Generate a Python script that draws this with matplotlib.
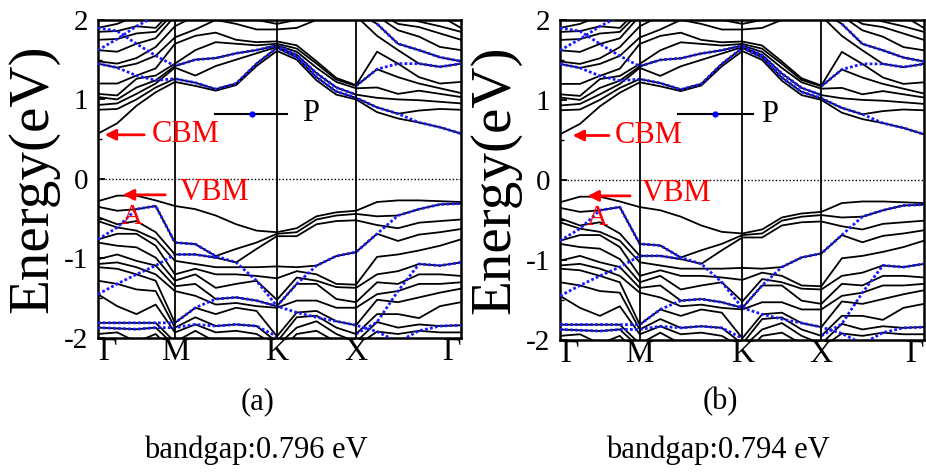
import numpy as np
import matplotlib
matplotlib.use('Agg')
import matplotlib.pyplot as plt
from matplotlib.ticker import MultipleLocator

plt.rcParams['font.family'] = ['Liberation Serif', 'DejaVu Serif']

# --------------------- 高对称点 ---------------------
k_labels = ['Γ', 'M', 'K', 'X', 'Γ']
k_nodes_a = [0.0, 0.212, 0.493, 0.711, 1.0]
k_nodes_b = [0.0, 0.219, 0.501, 0.718, 1.0]
seg_steps = [4, 5, 4, 5]  # 每段取点数

# --------------------- 导带 (eV) ---------------------
cb01 = [0.57, 0.70, 0.92, 1.09, 1.22, 1.17, 1.11, 1.18, 1.42, 1.61, 1.50, 1.24, 1.06, 1.00, 0.84, 0.76, 0.71, 0.65, 0.57]
cb02 = [0.87, 0.88, 1.00, 1.15, 1.26, 1.21, 1.13, 1.20, 1.45, 1.65, 1.53, 1.28, 1.10, 1.02, 0.90, 0.82, 0.86, 0.88, 0.87]
cb03 = [0.93, 0.95, 1.07, 1.20, 1.40, 1.30, 1.42, 1.50, 1.58, 1.66, 1.56, 1.33, 1.15, 1.06, 1.02, 1.00, 0.99, 0.97, 0.95]
cb04 = [1.03, 1.00, 1.15, 1.24, 1.42, 1.50, 1.52, 1.58, 1.62, 1.68, 1.60, 1.40, 1.22, 1.14, 1.15, 1.07, 1.11, 1.07, 1.03]
cb05 = [1.07, 1.05, 1.26, 1.30, 1.45, 1.62, 1.72, 1.70, 1.68, 1.70, 1.64, 1.45, 1.25, 1.17, 1.38, 1.28, 1.20, 1.14, 1.08]
cb06 = [1.20, 1.20, 1.30, 1.39, 1.70, 1.80, 1.84, 1.75, 1.72, 1.73, 1.68, 1.48, 1.27, 1.18, 1.60, 1.45, 1.28, 1.20, 1.22]
cb07 = [1.45, 1.40, 1.45, 1.55, 1.78, 1.88, 2.00, 1.95, 1.88, 1.88, 1.90, 2.00, 2.05, 2.05, 1.80, 1.62, 1.45, 1.41, 1.45]
cb08 = [1.48, 1.45, 1.52, 1.66, 1.92, 2.05, 2.05, 2.05, 2.00, 1.95, 2.00, 2.05, 2.10, 2.10, 1.95, 1.70, 1.62, 1.53, 1.48]
cb09 = [1.62, 1.60, 1.70, 1.77, 2.05, 2.10, 2.10, 2.10, 2.10, 2.10, 2.10, 2.10, 2.15, 2.15, 2.05, 1.87, 1.79, 1.66, 1.62]
cb10 = [1.75, 1.76, 1.83, 1.85, 2.10, 2.15, 2.15, 2.15, 2.15, 2.15, 2.15, 2.15, 2.20, 2.20, 2.10, 1.95, 1.91, 1.83, 1.75]
cb11 = [1.85, 1.86, 1.92, 1.90, 2.15, 2.20, 2.20, 2.20, 2.20, 2.20, 2.20, 2.20, 2.25, 2.25, 2.15, 2.05, 1.98, 1.92, 1.85]
cb12 = [1.90, 1.95, 2.05, 2.05, 2.20, 2.25, 2.25, 2.25, 2.25, 2.25, 2.25, 2.25, 2.30, 2.30, 2.20, 2.10, 2.10, 2.05, 1.90]

# --------------------- 价带 (eV) ---------------------
vb01 = [-0.28, -0.21, -0.21, -0.27, -0.34, -0.38, -0.46, -0.57, -0.65, -0.67, -0.62, -0.47, -0.42, -0.40, -0.29, -0.27, -0.27, -0.28, -0.29]
vb02 = [-0.35, -0.40, -0.38, -0.34, -0.80, -0.82, -0.97, -0.88, -0.80, -0.69, -0.67, -0.51, -0.46, -0.44, -0.47, -0.46, -0.38, -0.32, -0.31]
vb03 = [-0.48, -0.57, -0.53, -0.67, -0.95, -0.95, -0.99, -1.05, -0.88, -0.72, -0.72, -0.57, -0.53, -0.52, -0.58, -0.62, -0.55, -0.53, -0.51]
vb04 = [-0.53, -0.61, -0.65, -0.76, -1.03, -1.07, -1.11, -1.11, -1.11, -1.10, -1.11, -1.09, -0.97, -0.92, -0.69, -0.78, -0.70, -0.67, -0.63]
vb05 = [-0.76, -0.69, -0.69, -0.84, -1.20, -1.13, -1.20, -1.20, -1.22, -1.25, -1.16, -1.20, -1.32, -1.33, -0.98, -0.95, -0.90, -0.84, -0.76]
vb06 = [-0.80, -0.84, -0.86, -0.99, -1.28, -1.20, -1.37, -1.32, -1.28, -1.52, -1.24, -1.28, -1.36, -1.37, -1.20, -1.16, -1.07, -1.09, -1.05]
vb07 = [-1.01, -0.95, -1.03, -1.09, -1.35, -1.32, -1.51, -1.49, -1.53, -1.60, -1.32, -1.32, -1.51, -1.55, -1.30, -1.32, -1.20, -1.20, -1.22]
vb08 = [-1.07, -1.05, -1.11, -1.20, -1.41, -1.47, -1.58, -1.56, -1.60, -1.62, -1.53, -1.53, -1.62, -1.62, -1.45, -1.41, -1.32, -1.32, -1.30]
vb09 = [-1.11, -1.13, -1.20, -1.28, -1.81, -1.62, -1.70, -1.62, -1.66, -1.98, -1.68, -1.66, -1.79, -1.84, -1.52, -1.55, -1.49, -1.43, -1.38]
vb10 = [-1.28, -1.32, -1.39, -1.41, -1.87, -1.74, -1.85, -1.83, -1.85, -2.05, -1.74, -1.72, -1.87, -1.95, -1.70, -1.70, -1.75, -1.60, -1.55]
vb11 = [-1.45, -1.60, -1.70, -1.58, -1.93, -1.83, -1.93, -1.91, -1.95, -2.10, -1.87, -1.79, -1.95, -2.05, -1.80, -1.87, -1.83, -1.85, -1.84]
vb12 = [-1.81, -1.81, -1.81, -1.81, -2.05, -1.91, -2.05, -2.05, -2.05, -2.20, -1.95, -1.91, -2.05, -2.10, -1.92, -1.95, -1.91, -1.93, -1.93]
vb13 = [-1.87, -1.88, -1.89, -1.87, -2.10, -2.05, -2.10, -2.10, -2.10, -2.30, -2.10, -2.05, -2.10, -2.20, -2.05, -2.10, -2.10, -2.10, -2.10]
vb14 = [-1.95, -1.93, -2.05, -1.95, -2.20, -2.15, -2.20, -2.20, -2.20, -2.40, -2.20, -2.15, -2.20, -2.30, -2.15, -2.20, -2.20, -2.20, -2.20]

# --------------------- 投影权重较大的能带 (蓝色) ---------------------
nan = np.nan
bc1 = [1.45, 1.40, 1.30, 1.24, 1.26, 1.21, 1.13, 1.20, 1.45, 1.65, 1.53, 1.28, 1.10, 1.02, 0.90, 0.82, 0.71, 0.65, 0.57]
bc2 = [1.90, 1.86, 1.70, 1.55, 1.42, 1.50, 1.52, 1.58, 1.62, 1.68, 1.56, 1.33, 1.15, 1.06, nan, nan, nan, nan, nan]
bc3 = [nan, nan, nan, nan, nan, nan, nan, nan, nan, nan, nan, nan, nan, 1.17, 1.38, 1.45, 1.45, 1.41, 1.45]
bc4 = [1.62, 1.76, 1.92, 2.05, nan, nan, nan, nan, nan, nan, nan, nan, nan, nan, nan, nan, nan, nan, nan]
bc5 = [nan, nan, nan, nan, nan, nan, nan, nan, nan, nan, nan, nan, nan, nan, 1.95, 1.70, 1.62, 1.53, 1.48]
bv1 = [-0.76, -0.61, -0.38, -0.34, -0.80, -0.82, -0.97, -1.05, -1.28, -1.60, -1.32, -1.09, -0.97, -0.92, -0.69, -0.46, -0.38, -0.32, -0.31]
bv2 = [-1.45, -1.32, -1.20, -1.09, -0.95, -0.95, -0.99, nan, nan, nan, nan, nan, nan, nan, nan, nan, nan, nan, nan]
bv3 = [-1.81, -1.81, -1.81, -1.81, -1.81, -1.62, -1.51, -1.49, -1.53, -1.60, -1.68, -1.74, -1.79, -1.84, -1.92, -2.05, nan, nan, nan]
bv4 = [-1.87, -1.88, -1.89, -1.87, -1.87, -1.83, -1.85, -1.83, -1.85, -1.98, nan, nan, nan, nan, nan, -2.05, -1.91, -1.85, -1.84]
bv5 = [nan, nan, nan, nan, nan, nan, nan, nan, nan, nan, nan, nan, nan, -1.95, -1.80, -1.41, -1.07, -1.09, -1.05]

black_bands = [cb01, cb02, cb03, cb04, cb05, cb06, cb07, cb08, cb09, cb10, cb11, cb12,
               vb01, vb02, vb03, vb04, vb05, vb06, vb07, vb08, vb09, vb10, vb11, vb12, vb13, vb14]
blue_bands = [bc1, bc2, bc3, bc4, bc5, bv1, bv2, bv3, bv4, bv5]

panel_tags = ['(a)', '(b)']
gap_text = ['bandgap:0.796 eV', 'bandgap:0.794 eV']


def kgrid(nodes):
    ks = [nodes[0]]
    for i, n in enumerate(seg_steps):
        ks += list(np.linspace(nodes[i], nodes[i + 1], n + 1)[1:])
    return np.array(ks)


def draw_panel(ax, nodes, cbm_x, vbm_x, a_x, p_x):
    k = kgrid(nodes)
    for b in black_bands:
        ax.plot(k, b, color='black', lw=1.3, zorder=2)
    for b in blue_bands:
        ax.plot(k, b, color='#1a1aff', lw=2.0, ls=(0, (1, 0.8)), zorder=3)
    for x in nodes[1:-1]:
        ax.axvline(x, color='black', lw=1.3, zorder=4)
    ax.axhline(0, color='black', lw=1.0, ls=(0, (1, 1.5)), zorder=4)

    ax.set_xlim(0, 1)
    ax.set_ylim(-2, 2)
    ax.set_xticks(nodes)
    ax.set_xticklabels(k_labels, fontsize=23)
    ax.get_xticklabels()[0].set_ha('left')
    ax.get_xticklabels()[-1].set_ha('right')
    ax.tick_params(axis='x', length=0, pad=0)
    ax.set_yticks([-2, -1, 0, 1, 2])
    ax.set_yticklabels(['-2', '-1', '0', '1', '2'], fontsize=21)
    ax.yaxis.set_minor_locator(MultipleLocator(0.5))
    ax.tick_params(axis='y', which='major', direction='in', length=5, width=1.3, pad=7)
    ax.tick_params(axis='y', which='minor', direction='in', length=3, width=1.0)
    for s in ax.spines.values():
        s.set_linewidth(1.8)
    ax.set_ylabel('Energy(eV)', fontsize=41, labelpad=3)

    # CBM / VBM 标注
    ax.annotate('', xy=(cbm_x[0], 0.555), xytext=(cbm_x[1], 0.555),
                arrowprops=dict(arrowstyle='-|>', color='red', lw=2, mutation_scale=16), zorder=6)
    ax.text(cbm_x[2], 0.555, 'CBM', color='red', fontsize=22, va='center', ha='left', zorder=6)
    ax.annotate('', xy=(vbm_x[0], -0.20), xytext=(vbm_x[1], -0.20),
                arrowprops=dict(arrowstyle='-|>', color='red', lw=2, mutation_scale=16), zorder=6)
    ax.text(vbm_x[2], -0.17, 'VBM', color='red', fontsize=22, va='center', ha='left', zorder=6)
    ax.text(a_x, -0.48, 'A', color='red', fontsize=21, va='center', ha='center', zorder=6)

    # 图例 P
    ax.plot([p_x[0], p_x[1]], [0.82, 0.82], color='black', lw=1.5, zorder=6)
    ax.plot([p_x[2]], [0.82], 'o', color='blue', ms=3.5, zorder=7)
    ax.text(p_x[3], 0.82, 'P', fontsize=22, va='center', ha='left', zorder=6)


fig = plt.figure(figsize=(9.26, 4.74), dpi=100)
ax_a = fig.add_axes([0.1058, 0.287, 0.392, 0.671])
ax_b = fig.add_axes([0.6048, 0.283, 0.393, 0.675])

draw_panel(ax_a, k_nodes_a, (0.011, 0.135, 0.149), (0.061, 0.193, 0.226), 0.094,
           (0.322, 0.521, 0.424, 0.562))
draw_panel(ax_b, k_nodes_b, (0.027, 0.142, 0.151), (0.068, 0.200, 0.225), 0.101,
           (0.323, 0.529, 0.427, 0.553))

fig.text(258 / 926, 1 - 402 / 474, panel_tags[0], fontsize=22, ha='center', va='center')
fig.text(720 / 926, 1 - 402 / 474, panel_tags[1], fontsize=22, ha='center', va='center')
fig.text(256 / 926, 1 - 450 / 474, gap_text[0], fontsize=22, ha='center', va='center')
fig.text(718 / 926, 1 - 450 / 474, gap_text[1], fontsize=22, ha='center', va='center')

fig.savefig('out.png', dpi=100)
